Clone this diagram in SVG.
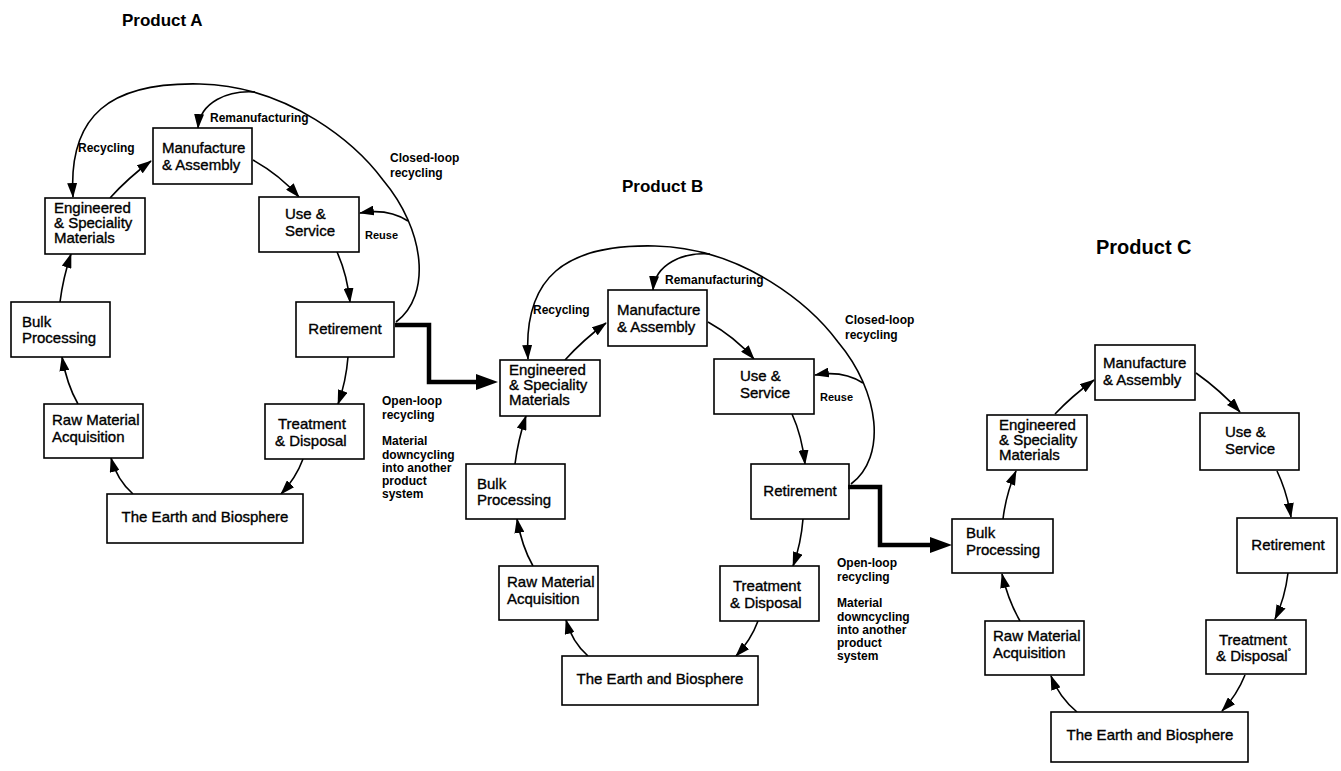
<svg xmlns="http://www.w3.org/2000/svg" width="1341" height="771" viewBox="0 0 1341 771">
  <defs>
    <style>
      .box { fill: #fff; stroke: #000; stroke-width: 1.6; }
      .node { font-family: "Liberation Sans", Arial, Helvetica, sans-serif; font-size: 15px; fill: #000; stroke: #000; stroke-width: 0.35; }
      .mid { text-anchor: middle; }
      .lbl { font-family: "Liberation Sans", Arial, Helvetica, sans-serif; font-size: 12px; font-weight: bold; fill: #000; }
      .sm { font-size: 11px; }
      .title { font-family: "Liberation Sans", Arial, Helvetica, sans-serif; font-size: 17px; font-weight: bold; fill: #000; }
      .flow { fill: none; stroke: #000; stroke-width: 1.6; marker-end: url(#ah); }
      .thick { fill: none; stroke: #000; stroke-width: 4.5; marker-end: url(#bigah); }
    </style>
    <marker id="ah" markerUnits="userSpaceOnUse" markerWidth="15" markerHeight="10" viewBox="0 0 15 10" refX="14" refY="5" orient="auto">
      <path d="M0,0 L15,5 L0,10 z" fill="#000"/>
    </marker>
    <marker id="bigah" markerUnits="userSpaceOnUse" markerWidth="22" markerHeight="16" viewBox="0 0 22 16" refX="1" refY="8" orient="auto">
      <path d="M0,0 L22,8 L0,16 z" fill="#000"/>
    </marker>
  </defs>
  <rect width="1341" height="771" fill="#fff"/>

  <!-- titles -->
  <text class="title" x="122" y="26">Product A</text>
  <text class="title" x="622" y="192">Product B</text>
  <text class="title" x="1096" y="254" style="font-size:20px">Product C</text>

  <!-- Product A life cycle -->
  <g id="productA">
    <g id="connectorsA">
      <path class="flow" d="M110,198 Q128,178 151,161"/>
      <path class="flow" d="M253,160 Q280,175 299,197"/>
      <path class="flow" d="M337,252 Q347,274 350,302"/>
      <path class="flow" d="M348,357 Q346,382 338,404"/>
      <path class="flow" d="M303,459 Q296,478 281,494"/>
      <path class="flow" d="M133,494 Q117,480 111,458"/>
      <path class="flow" d="M78,404 Q67,385 62,357"/>
      <path class="flow" d="M60,302 Q63,278 71,254"/>
      <path class="flow" d="M396,322 C432,295 425,230 383,180 C357,145 290,86 200,84 C110,82 68,115 73,197"/>
      <path class="flow" d="M255,92 C228,90 200,102 198,128"/>
      <path class="flow" d="M408,221 Q388,208 360,213"/>
    </g>
    <g id="a-manufacture"><rect class="box" x="153" y="128" width="99" height="56"/><text class="node" x="162" y="153">Manufacture</text><text class="node" x="162" y="170">&amp; Assembly</text></g>
    <g id="a-engineered"><rect class="box" x="45" y="198" width="100" height="56"/><text class="node" x="54" y="213">Engineered</text><text class="node" x="54" y="228">&amp; Speciality</text><text class="node" x="54" y="243">Materials</text></g>
    <g id="a-use"><rect class="box" x="259" y="197" width="100" height="55"/><text class="node" x="285" y="219">Use &amp;</text><text class="node" x="285" y="236">Service</text></g>
    <g id="a-bulk"><rect class="box" x="11" y="302" width="99" height="55"/><text class="node" x="22" y="327">Bulk</text><text class="node" x="22" y="343">Processing</text></g>
    <g id="a-retirement"><rect class="box" x="296" y="302" width="98" height="55"/><text class="node mid" x="345" y="334">Retirement</text></g>
    <g id="a-raw"><rect class="box" x="44" y="404" width="99" height="54"/><text class="node" x="52" y="425">Raw Material</text><text class="node" x="52" y="442">Acquisition</text></g>
    <g id="a-treatment"><rect class="box" x="265" y="404" width="99" height="55"/><text class="node" x="278" y="429">Treatment</text><text class="node" x="275" y="446">&amp; Disposal</text></g>
    <g id="a-earth"><rect class="box" x="107" y="494" width="196" height="49"/><text class="node mid" x="205" y="522">The Earth and Biosphere</text></g>
    <g id="labelsA">
      <text class="lbl" x="210" y="122">Remanufacturing</text>
      <text class="lbl" x="78" y="152">Recycling</text>
      <text class="lbl" x="390" y="162">Closed-loop</text>
      <text class="lbl" x="390" y="177">recycling</text>
      <text class="lbl sm" x="365" y="239">Reuse</text>
      <text class="lbl" x="382" y="405">Open-loop</text>
      <text class="lbl" x="382" y="419">recycling</text>
      <text class="lbl" x="382" y="445">Material</text>
      <text class="lbl" x="382" y="459">downcycling</text>
      <text class="lbl" x="382" y="472">into another</text>
      <text class="lbl" x="382" y="485">product</text>
      <text class="lbl" x="382" y="498">system</text>
    </g>
  </g>

  <!-- Product B life cycle (same layout, shifted) -->
  <g id="productB" transform="translate(455,162)">
    <g id="connectorsB">
      <path class="flow" d="M110,198 Q128,178 151,161"/>
      <path class="flow" d="M253,160 Q280,175 299,197"/>
      <path class="flow" d="M337,252 Q347,274 350,302"/>
      <path class="flow" d="M348,357 Q346,382 338,404"/>
      <path class="flow" d="M303,459 Q296,478 281,494"/>
      <path class="flow" d="M133,494 Q117,480 111,458"/>
      <path class="flow" d="M78,404 Q67,385 62,357"/>
      <path class="flow" d="M60,302 Q63,278 71,254"/>
      <path class="flow" d="M396,322 C432,295 425,230 383,180 C357,145 290,86 200,84 C110,82 68,115 73,197"/>
      <path class="flow" d="M255,92 C228,90 200,102 198,128"/>
      <path class="flow" d="M408,221 Q388,208 360,213"/>
    </g>
    <g id="b-manufacture"><rect class="box" x="153" y="128" width="99" height="56"/><text class="node" x="162" y="153">Manufacture</text><text class="node" x="162" y="170">&amp; Assembly</text></g>
    <g id="b-engineered"><rect class="box" x="45" y="198" width="100" height="56"/><text class="node" x="54" y="213">Engineered</text><text class="node" x="54" y="228">&amp; Speciality</text><text class="node" x="54" y="243">Materials</text></g>
    <g id="b-use"><rect class="box" x="259" y="197" width="100" height="55"/><text class="node" x="285" y="219">Use &amp;</text><text class="node" x="285" y="236">Service</text></g>
    <g id="b-bulk"><rect class="box" x="11" y="302" width="99" height="55"/><text class="node" x="22" y="327">Bulk</text><text class="node" x="22" y="343">Processing</text></g>
    <g id="b-retirement"><rect class="box" x="296" y="302" width="98" height="55"/><text class="node mid" x="345" y="334">Retirement</text></g>
    <g id="b-raw"><rect class="box" x="44" y="404" width="99" height="54"/><text class="node" x="52" y="425">Raw Material</text><text class="node" x="52" y="442">Acquisition</text></g>
    <g id="b-treatment"><rect class="box" x="265" y="404" width="99" height="55"/><text class="node" x="278" y="429">Treatment</text><text class="node" x="275" y="446">&amp; Disposal</text></g>
    <g id="b-earth"><rect class="box" x="107" y="494" width="196" height="49"/><text class="node mid" x="205" y="522">The Earth and Biosphere</text></g>
    <g id="labelsB">
      <text class="lbl" x="210" y="122">Remanufacturing</text>
      <text class="lbl" x="78" y="152">Recycling</text>
      <text class="lbl" x="390" y="162">Closed-loop</text>
      <text class="lbl" x="390" y="177">recycling</text>
      <text class="lbl sm" x="365" y="239">Reuse</text>
      <text class="lbl" x="382" y="405">Open-loop</text>
      <text class="lbl" x="382" y="419">recycling</text>
      <text class="lbl" x="382" y="445">Material</text>
      <text class="lbl" x="382" y="459">downcycling</text>
      <text class="lbl" x="382" y="472">into another</text>
      <text class="lbl" x="382" y="485">product</text>
      <text class="lbl" x="382" y="498">system</text>
    </g>
  </g>

  <!-- Product C life cycle -->
  <g id="productC">
    <g id="connectorsC">
      <path class="flow" d="M1055,414 Q1072,396 1094,380"/>
      <path class="flow" d="M1196,373 Q1220,390 1240,412"/>
      <path class="flow" d="M1277,471 Q1287,492 1291,517"/>
      <path class="flow" d="M1288,573 Q1285,598 1275,619"/>
      <path class="flow" d="M1245,675 Q1237,695 1222,711"/>
      <path class="flow" d="M1077,712 Q1059,697 1051,676"/>
      <path class="flow" d="M1020,621 Q1008,600 1002,574"/>
      <path class="flow" d="M1003,519 Q1006,494 1016,471"/>
    </g>
    <g id="c-manufacture"><rect class="box" x="1095" y="345" width="100" height="55"/><text class="node" x="1103" y="368">Manufacture</text><text class="node" x="1103" y="385">&amp; Assembly</text></g>
    <g id="c-engineered"><rect class="box" x="987" y="415" width="100" height="55"/><text class="node" x="999" y="430">Engineered</text><text class="node" x="999" y="445">&amp; Speciality</text><text class="node" x="999" y="460">Materials</text></g>
    <g id="c-use"><rect class="box" x="1200" y="413" width="99" height="57"/><text class="node" x="1225" y="437">Use &amp;</text><text class="node" x="1225" y="454">Service</text></g>
    <g id="c-bulk"><rect class="box" x="952" y="519" width="101" height="54"/><text class="node" x="966" y="538">Bulk</text><text class="node" x="966" y="555">Processing</text></g>
    <g id="c-retirement"><rect class="box" x="1237" y="518" width="100" height="55"/><text class="node mid" x="1288" y="550">Retirement</text></g>
    <g id="c-raw"><rect class="box" x="985" y="621" width="99" height="54"/><text class="node" x="993" y="641">Raw Material</text><text class="node" x="993" y="658">Acquisition</text></g>
    <g id="c-treatment"><rect class="box" x="1206" y="620" width="100" height="54"/><text class="node" x="1219" y="645">Treatment</text><text class="node" x="1216" y="661">&amp; Disposal<tspan font-size="8" dy="-7">°</tspan></text></g>
    <g id="c-earth"><rect class="box" x="1051" y="712" width="197" height="50"/><text class="node mid" x="1150" y="740">The Earth and Biosphere</text></g>
  </g>

  <!-- open-loop transfers between product systems -->
  <g id="openLoop">
    <path class="thick" d="M395,325 H429 V382 H477"/>
    <path class="thick" d="M848,487 H880 V545 H931"/>
  </g>
</svg>
